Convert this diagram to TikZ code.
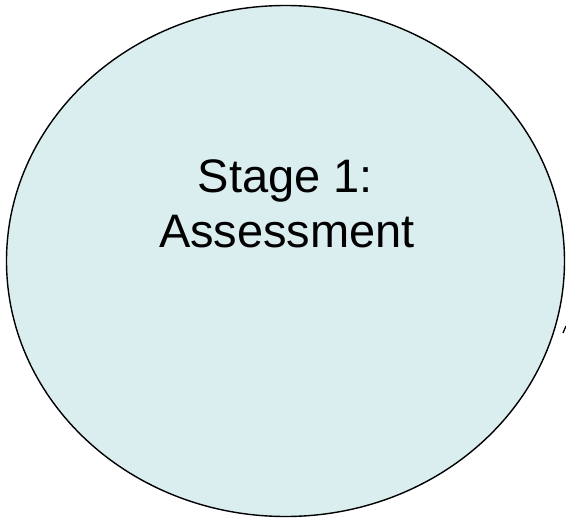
\documentclass[tikz,border=0pt]{standalone}
\usepackage{fontspec}
\setmainfont{Liberation Sans}
\usetikzlibrary{shapes.geometric}
\definecolor{stagefill}{RGB}{218,237,239}
\tikzset{
  stagecircle/.style={ellipse, draw=black, line width=1.4pt, fill=stagefill, inner sep=0pt, outer sep=0pt},
  stagetext/.style={anchor=base, inner sep=0pt, font=\fontsize{47}{55}\selectfont}
}
\begin{document}
\begin{tikzpicture}[x=1pt,y=-1pt]
\useasboundingbox (0,0) rectangle (566,520);
\node[stagecircle, minimum width=558pt, minimum height=511pt] (c) at (285.5,261) {};
\node[stagetext] (t1) at (285.5,192) {Stage 1:};
\node[stagetext] (t2) at (287,247) {Assessment};
\coordinate (m1) at (566,326);
\coordinate (m2) at (563,333);
\draw[line width=1.3pt] (m1) -- (m2);
\end{tikzpicture}
\end{document}
